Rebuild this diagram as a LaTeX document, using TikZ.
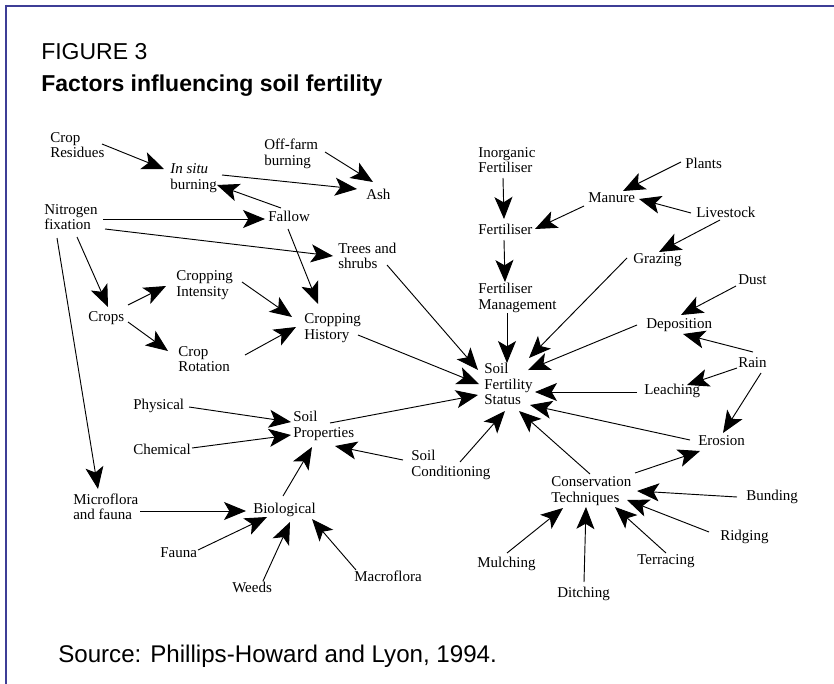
\documentclass[tikz,border=0pt]{standalone}
\usepackage{fontspec}
\setmainfont{Liberation Serif}
\newfontfamily\helv{Liberation Sans}
\usetikzlibrary{arrows.meta}
\definecolor{framec}{RGB}{62,62,150}
\newcommand{\myedge}[6]{\draw[arr] ([shift={(#2,#3)}]#1.west) -- ([shift={(#5,#6)}]#4.west);}
\tikzset{
  lbl/.style={anchor=west, inner sep=0pt, align=left, font=\fontsize{11.25pt}{11.6pt}\selectfont},
  ttl/.style={anchor=base west, inner sep=0pt, font=\helv\fontsize{17.25pt}{20pt}\selectfont},
  headtip/.tip={Stealth[length=16.5pt,width=13.5pt,inset=4pt]},
  arr/.style={line width=0.7pt, -headtip},
  framel/.style={line width=2pt, draw=framec}
}
\begin{document}
\begin{tikzpicture}[x=0.75pt,y=-0.75pt]
\useasboundingbox (0,0) rectangle (834,684);
\fill[white] (0,0) rectangle (834,684);
\draw[framel] (5,6) -- (834,6);
\draw[framel] (6,5) -- (6,684);

\node[ttl] (fig) at (41,60) {FIGURE 3};
\node[ttl, font=\helv\bfseries\fontsize{17.25pt}{20pt}\selectfont] (title) at (41,91.5) {Factors influencing soil fertility};
\node[ttl, font=\helv\fontsize{18.1pt}{21pt}\selectfont] (src) at (58,662) {Source: Phillips-Howard and Lyon, 1994.};

\node[lbl] (cres) at (50,145) {Crop\\Residues};
\node[lbl] (insitu) at (170,178) {\textit{In situ}\\burning};
\node[lbl] (offfarm) at (264,154) {Off-farm\\burning};
\node[lbl] (ash) at (366,194) {Ash};
\node[lbl] (nfix) at (44,217) {Nitrogen\\fixation};
\node[lbl] (fallow) at (268,216) {Fallow};
\node[lbl] (trees) at (338,256) {Trees and\\shrubs};
\node[lbl] (cint) at (176,285) {Cropping\\Intensity};
\node[lbl] (crops) at (88,318) {Crops};
\node[lbl] (chist) at (304,328) {Cropping\\History};
\node[lbl] (crot) at (178,359) {Crop\\Rotation};
\node[lbl] (inorg) at (478,160) {Inorganic\\Fertiliser};
\node[lbl] (plants) at (685,163) {Plants};
\node[lbl] (manure) at (588,198) {Manure};
\node[lbl] (livestock) at (696,212) {Livestock};
\node[lbl] (fert) at (478,229) {Fertiliser};
\node[lbl] (grazing) at (633,260) {Grazing};
\node[lbl] (dust) at (738,280) {Dust};
\node[lbl] (fman) at (478,298) {Fertiliser\\Management};
\node[lbl] (depo) at (646,325) {Deposition};
\node[lbl] (rain) at (738,363) {Rain};
\node[lbl] (sfs) at (484,384) {Soil\\Fertility\\Status};
\node[lbl] (leach) at (644,391) {Leaching};
\node[lbl] (erosion) at (698,441) {Erosion};
\node[lbl] (scond) at (411,465) {Soil\\Conditioning};
\node[lbl] (ctech) at (551,491) {Conservation\\Techniques};
\node[lbl] (bund) at (746,497) {Bunding};
\node[lbl] (ridg) at (720,537) {Ridging};
\node[lbl] (mulch) at (477,564) {Mulching};
\node[lbl] (terr) at (637,561) {Terracing};
\node[lbl] (ditch) at (557,594) {Ditching};
\node[lbl] (phys) at (133,406) {Physical};
\node[lbl] (sprop) at (293,426) {Soil\\Properties};
\node[lbl] (chem) at (133,449) {Chemical};
\node[lbl] (micro) at (73,507) {Microflora\\and fauna};
\node[lbl] (bio) at (253,510) {Biological};
\node[lbl] (fauna) at (160,553) {Fauna};
\node[lbl] (macro) at (354,576) {Macroflora};
\node[lbl] (weeds) at (232,587) {Weeds};

\myedge{cres}{52}{-1}{insitu}{-6}{-9}
\myedge{offfarm}{61}{-2}{ash}{7}{-12}
\myedge{insitu}{52}{-3}{ash}{-9}{-5}
\myedge{fallow}{13}{-8}{insitu}{47}{7}
\myedge{nfix}{59}{2}{fallow}{-3}{3}
\myedge{nfix}{61}{12}{trees}{-5}{0}
\myedge{nfix}{33}{20}{crops}{20}{-11}
\myedge{nfix}{13}{21}{micro}{25}{-18}
\myedge{crops}{40}{-13}{cint}{-10}{1}
\myedge{crops}{40}{4}{crot}{-10}{-8}
\myedge{cint}{66}{-3}{chist}{-12}{-11}
\myedge{crot}{67}{-4}{chist}{-8}{-1}
\myedge{fallow}{20}{13}{chist}{14}{-24}
\myedge{trees}{49}{9}{sfs}{-6}{-14}
\myedge{chist}{54}{7}{sfs}{-5}{0}
\myedge{inorg}{25}{18}{fert}{26}{-10}
\myedge{plants}{-4}{-1}{manure}{35}{-7}
\myedge{livestock}{-5}{1}{manure}{51}{1}
\myedge{manure}{-4}{8}{fert}{57}{0}
\myedge{livestock}{24}{8}{grazing}{26}{-8}
\myedge{fert}{26}{11}{fman}{27}{-16}
\myedge{fman}{29}{15}{sfs}{23}{-21}
\myedge{grazing}{-6}{-2}{sfs}{45}{-26}
\myedge{dust}{-2}{6}{depo}{35}{-10}
\myedge{depo}{-9}{0}{sfs}{44}{-14}
\myedge{rain}{15}{-11}{depo}{37}{9}
\myedge{rain}{-1}{5}{leach}{43}{-6}
\myedge{leach}{-7}{1}{sfs}{51}{8}
\myedge{rain}{23}{10}{erosion}{25}{-8}
\myedge{erosion}{-8}{-1}{sfs}{46}{21}
\myedge{ctech}{84}{-18}{erosion}{2}{10}
\myedge{ctech}{39}{-17}{sfs}{35}{27}
\myedge{scond}{49}{-3}{sfs}{21}{27}
\myedge{scond}{-8}{-5}{sprop}{42}{20}
\myedge{sprop}{37}{-3}{sfs}{-6}{11}
\myedge{phys}{56}{1}{sprop}{-2}{-4}
\myedge{chem}{59}{-1}{sprop}{-2}{9}
\myedge{bio}{30}{-14}{sprop}{19}{21}
\myedge{micro}{67}{4}{bio}{-7}{1}
\myedge{fauna}{38}{-3}{bio}{14}{7}
\myedge{weeds}{31}{-6}{bio}{37}{12}
\myedge{macro}{2}{-6}{bio}{59}{9}
\myedge{bund}{-9}{0}{ctech}{86}{0}
\myedge{ridg}{-11}{-5}{ctech}{76}{9}
\myedge{terr}{29}{-8}{ctech}{64}{16}
\myedge{ditch}{27}{-12}{ctech}{35}{16}
\myedge{mulch}{30}{-11}{ctech}{12}{17}
\end{tikzpicture}
\end{document}
